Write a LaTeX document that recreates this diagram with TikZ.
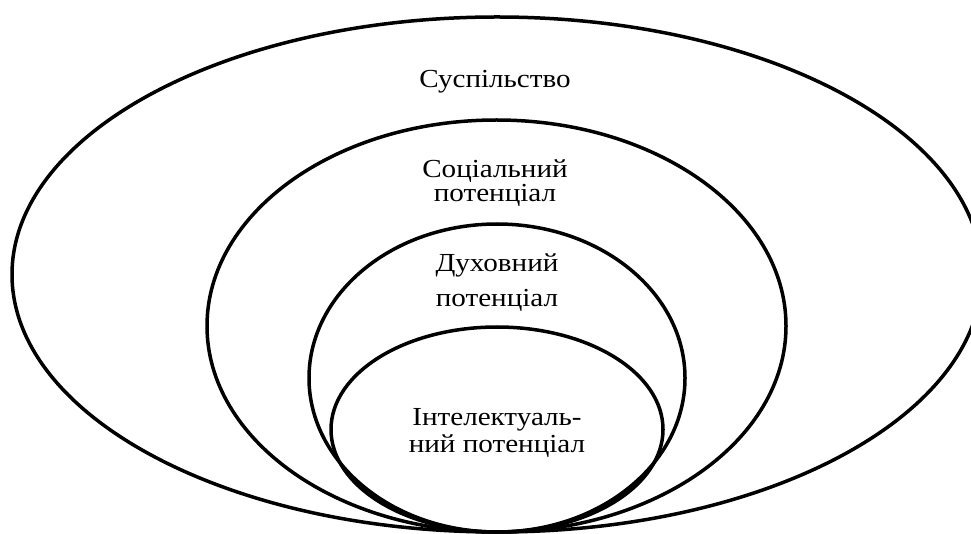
\documentclass[tikz,border=0pt]{standalone}
\usepackage{fontspec}
\setmainfont{Liberation Serif}[FakeStretch=1.12]
\begin{document}
\begin{tikzpicture}[x=1pt,y=-1pt]
    \useasboundingbox (0,0) rectangle (971,534);
    \clip (0,0) rectangle (971,534);

    \draw[line width=3.5pt] (497,274.5) ellipse [x radius=485, y radius=257.5];
    \draw[line width=3.5pt] (496.5,326) ellipse [x radius=289.5, y radius=206];
    \draw[line width=3.5pt] (497,378) ellipse [x radius=188, y radius=154];
    \draw[line width=3.5pt] (497,429.5) ellipse [x radius=166, y radius=102.5];

    \node[anchor=base, font=\fontsize{26}{26}\selectfont] (suspilstvo) at (495,88) {Суспільство};
    \node[anchor=base, align=center, font=\fontsize{26}{24}\selectfont] (socialnyi) at (495,202) {Соціальний\\потенціал};
    \node[anchor=base, align=center, font=\fontsize{26}{35}\selectfont] (duhovnyi) at (497,307) {Духовний\\потенціал};
    \node[anchor=base, align=center, font=\fontsize{26}{27}\selectfont] (intelekt) at (497,452) {Інтелектуаль-\\ний потенціал};

\end{tikzpicture}
\end{document}
